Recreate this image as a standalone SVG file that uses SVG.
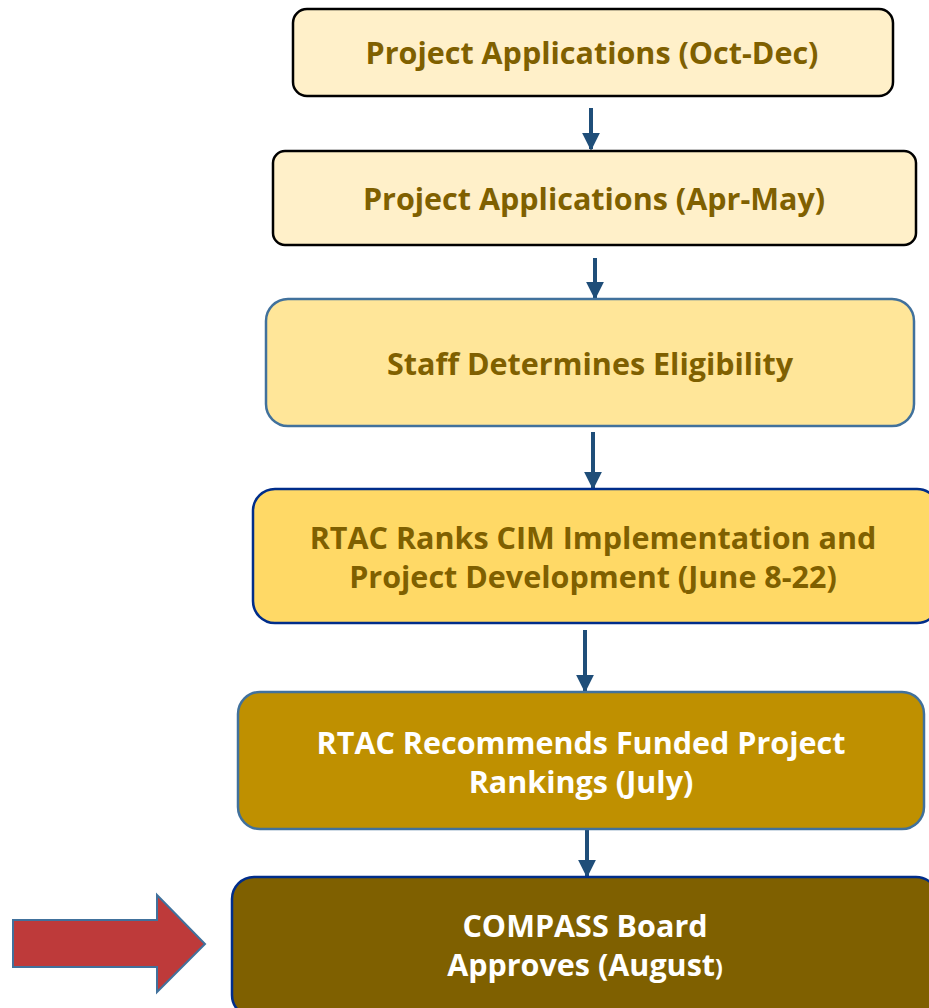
<svg xmlns="http://www.w3.org/2000/svg" width="929" height="1008" viewBox="0 0 929 1008">
<style>
.t{font-family:"Open Sans","Noto Sans","Liberation Sans",sans-serif;font-weight:700;font-size:30.5px;text-anchor:middle}
.d{fill:#7F6000}
.w{fill:#FFFFFF}
.c{stroke:#1F4E79;stroke-width:4;fill:none;marker-end:url(#ah)}
</style>
<defs>
<marker id="ah" viewBox="0 0 10 10" refX="9" refY="5" markerWidth="4.5" markerHeight="4.5" orient="auto" markerUnits="strokeWidth">
<path d="M0,0 L10,5 L0,10 Z" fill="#1F4E79"/>
</marker>
</defs>
<g id="connectors">
<line class="c" x1="591" y1="108" x2="591" y2="149"/>
<line class="c" x1="595" y1="258" x2="595" y2="298"/>
<line class="c" x1="593" y1="432" x2="593" y2="488"/>
<line class="c" x1="585" y1="630" x2="585" y2="691"/>
<line class="c" x1="587" y1="830" x2="587" y2="876"/>
</g>
<g id="n1">
<rect x="293" y="9" width="600" height="87" rx="14" fill="#FFF0C9" stroke="#000" stroke-width="2.5"/>
<text class="t d" x="592" y="64">Project Applications (Oct-Dec)</text>
</g>
<g id="n2">
<rect x="273" y="151" width="643" height="94" rx="12" fill="#FFF0C9" stroke="#000" stroke-width="2.5"/>
<text class="t d" x="594" y="210">Project Applications (Apr-May)</text>
</g>
<g id="n3">
<rect x="266" y="299" width="648" height="127" rx="22" fill="#FFE699" stroke="#41719C" stroke-width="2.5"/>
<text class="t d" x="590" y="375">Staff Determines Eligibility</text>
</g>
<g id="n4">
<rect x="253" y="489" width="686" height="134" rx="22" fill="#FFD966" stroke="#002D8A" stroke-width="2.5"/>
<text class="t d" x="593" y="549">RTAC Ranks CIM Implementation and</text>
<text class="t d" x="593" y="588">Project Development (June 8-22)</text>
</g>
<g id="n5">
<rect x="238" y="692" width="686" height="137" rx="22" fill="#BF9000" stroke="#41719C" stroke-width="2.5"/>
<text class="t w" x="581" y="754">RTAC Recommends Funded Project</text>
<text class="t w" x="581" y="793">Rankings (July)</text>
</g>
<g id="n6">
<rect x="232" y="877" width="706" height="140" rx="22" fill="#7F6000" stroke="#002D8A" stroke-width="2.5"/>
<text class="t w" x="585" y="937">COMPASS Board</text>
<text class="t w" x="585" y="976">Approves (August<tspan font-size="23">)</tspan></text>
</g>
<g id="red-arrow">
<polygon points="13,920 157,920 157,895 205,944 157,992 157,967 13,967" fill="#BE3A3A" stroke="#41719C" stroke-width="2"/>
</g>
</svg>
